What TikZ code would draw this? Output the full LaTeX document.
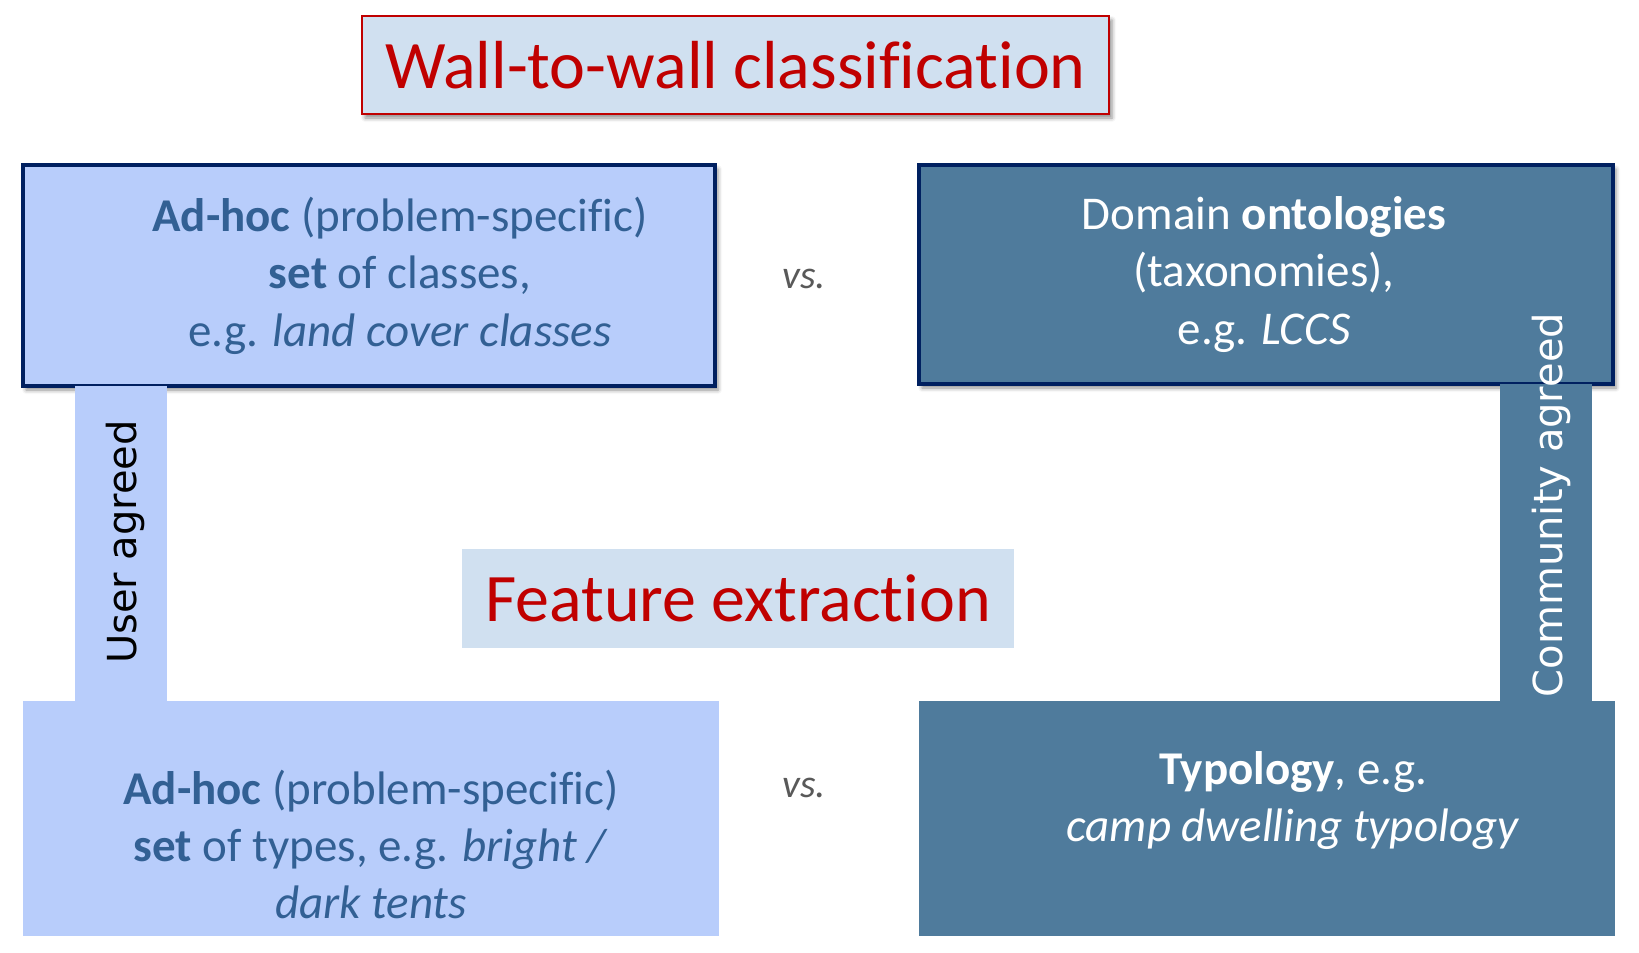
\documentclass[tikz,border=0pt]{standalone}
\usepackage{fontspec}
\setmainfont{Carlito}[Ligatures=NoCommon]
\newfontfamily\sidefont{DejaVu Sans}
\usetikzlibrary{shadows.blur}

\definecolor{paleblue}{RGB}{184,205,251}
\definecolor{steelbox}{RGB}{79,123,156}
\definecolor{navyline}{RGB}{0,32,96}
\definecolor{steeltext}{RGB}{50,96,148}
\definecolor{headfill}{RGB}{208,224,240}
\definecolor{headred}{RGB}{192,0,0}

\def\boxfont{\fontsize{23.5}{28.7}\selectfont}

\begin{document}
\begin{tikzpicture}[x=0.5pt, y=-0.5pt]
		\tikzstyle{soft shadow}
		=[blur shadow={shadow xshift=1.5pt, shadow yshift=-2pt, shadow blur radius=2pt, shadow opacity=45}]
		\tikzstyle{heading}
		=[fill=headfill, text=headred, inner sep=0pt, font=\fontsize{34}{40}\selectfont]
		\tikzstyle{panel}
		=[inner sep=0pt]
		\tikzstyle{user panel}
		=[panel, fill=paleblue]
		\tikzstyle{community panel}
		=[panel, fill=steelbox]
		\tikzstyle{framed}
		=[draw=navyline, line width=2.2pt, soft shadow]
		\tikzstyle{panel text}
		=[align=center, inner sep=0pt, font=\boxfont]
		\tikzstyle{versus}
		=[text=black!65, font=\fontsize{20}{24}\selectfont\itshape]
		\tikzstyle{side label}
		=[rotate=90, inner sep=0pt, font=\sidefont\fontsize{20}{24}\selectfont]
		
		\useasboundingbox (0,0) rectangle (1639,953);
		
		% Draw the two headings
		\node[heading, draw=headred, line width=1pt, soft shadow, minimum width=373.5pt,
		minimum height=49pt] (wall) at (735.5,65) {Wall-to-wall classification};
		\node[heading, minimum width=276pt, minimum height=49.5pt] (feature) at (738,598.5)
		{Feature extraction};
		
		% Draw the upper (classification) boxes
		\node[user panel, framed, minimum width=346pt, minimum height=110.5pt] (adhoc-class)
		at (369,275.5) {};
		\node[community panel, framed, minimum width=347pt, minimum height=109.5pt] (ontology)
		at (1266,274.5) {};
		
		% Draw the lower (feature) boxes
		\node[user panel, minimum width=348pt, minimum height=117.5pt] (adhoc-type)
		at (371,818.5) {};
		\node[community panel, minimum width=348pt, minimum height=117.5pt] (typology)
		at (1267,818.5) {};
		
		% Join the upper and lower boxes with the side bars
		\node[user panel, minimum width=46pt, minimum height=157.5pt] (user-bar) at (121,543.5) {};
		\node[community panel, minimum width=46pt, minimum height=158.5pt] (community-bar)
		at (1546,542.5) {};
		
		% Texts of the boxes
		\node[panel text, text=steeltext] at ([xshift=15.5pt]adhoc-class.center)
		{\textbf{Ad-hoc} (problem-specific)\\ \textbf{set} of classes,\\ e.g. \textit{land cover classes}};
		\node[panel text, text=white] at ([xshift=-1pt]ontology.center)
		{Domain \textbf{ontologies}\\ (taxonomies),\\ e.g. \textit{LCCS}};
		\node[panel text, text=steeltext] at ([yshift=-13pt]adhoc-type.center)
		{\textbf{Ad-hoc} (problem-specific)\\ \textbf{set} of types, e.g. \textit{bright /}\\ \textit{dark tents}};
		\node[panel text, text=white] at ([xshift=13pt, yshift=9pt]typology.center)
		{\textbf{Typology}, e.g.\\ \textit{camp dwelling typology}};
		
		% Annotate the bars and the pairs
		\node[side label, text=black] (user) at (125,542) {User agreed};
		\node[side label, text=white] (community) at (1551,505) {Community agreed};
		\foreach \name / \y in {top/279, bottom/788}
		\node[versus] (vs-\name) at (804,\y) {vs.};
	\end{tikzpicture}
\end{document}
